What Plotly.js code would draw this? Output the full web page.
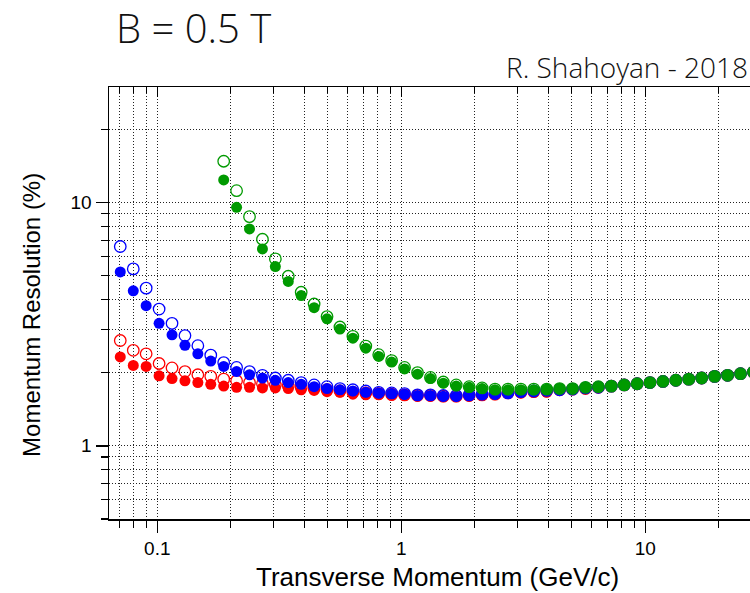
<!DOCTYPE html>
<html>
<head>
<meta charset="utf-8">
<script src="https://cdn.plot.ly/plotly-3.0.1.min.js"></script>
<style>html,body{margin:0;padding:0;overflow:hidden;background:#fff}</style>
</head>
<body>
<div id="chart" style="width:750px;height:593px"></div>
<script>
// Transverse momentum grid (GeV/c)
const pt = [0.0705,0.0797,0.0900,0.1017,0.1149,0.1298,0.1466,0.1656,0.1871,0.2113,
            0.2387,0.2697,0.3046,0.3441,0.3887,0.4391,0.4961,0.5604,0.6331,0.7152,
            0.8079,0.9127,1.031,1.165,1.316,1.486,1.679,1.897,2.143,2.421,
            2.735,3.090,3.490,3.943,4.454,5.032,5.684,6.421,7.254,8.194,
            9.256,10.45,11.81,13.34,15.07,17.02,19.23,21.73,24.55,27.73];

// Momentum resolution (%) - red series
const redOpen   = [2.71,2.47,2.39,2.18,2.09,2.02,1.96,1.93,1.88,1.85,
                   1.82,1.80,1.78,1.76,1.74,1.72,1.70,1.68,1.66,1.65,
                   1.64,1.63,1.62,1.61,1.61,1.60,1.60,1.61,1.62,1.63,
                   1.65,1.66,1.67,1.68,1.70,1.71,1.72,1.74,1.76,1.78,
                   1.80,1.82,1.84,1.86,1.88,1.90,1.93,1.95,1.98,2.01];
const redFilled = [2.32,2.14,2.12,1.94,1.89,1.85,1.82,1.79,1.76,1.74,
                   1.74,1.73,1.73,1.72,1.70,1.69,1.67,1.66,1.63,1.62,
                   1.62,1.61,1.61,1.60,1.60,1.59,1.59,1.60,1.61,1.62,
                   1.64,1.65,1.66,1.66,1.69,1.70,1.72,1.73,1.76,1.78,
                   1.80,1.82,1.84,1.86,1.88,1.90,1.93,1.95,1.98,2.01];
// blue series
const blueOpen   = [6.60,5.34,4.45,3.65,3.19,2.84,2.58,2.36,2.20,2.10,
                    2.02,1.95,1.90,1.86,1.82,1.78,1.75,1.72,1.70,1.68,
                    1.66,1.65,1.64,1.62,1.62,1.61,1.61,1.62,1.63,1.64,
                    1.65,1.67,1.68,1.69,1.70,1.71,1.73,1.74,1.76,1.78,
                    1.80,1.82,1.84,1.86,1.88,1.90,1.93,1.95,1.98,2.01];
const blueFilled = [5.19,4.34,3.77,3.19,2.86,2.59,2.39,2.23,2.12,2.02,
                    1.96,1.90,1.86,1.82,1.79,1.75,1.72,1.70,1.68,1.66,
                    1.65,1.64,1.63,1.61,1.61,1.60,1.60,1.61,1.62,1.63,
                    1.65,1.66,1.67,1.69,1.70,1.71,1.72,1.74,1.76,1.78,
                    1.80,1.82,1.84,1.86,1.88,1.90,1.93,1.95,1.98,2.01];
// green series
const greenOpen   = [null,null,null,null,null,null,null,null,14.8,11.2,
                     8.76,7.07,5.87,4.98,4.28,3.83,3.40,3.08,2.82,2.57,
                     2.37,2.24,2.10,2.00,1.91,1.83,1.78,1.75,1.73,1.71,
                     1.71,1.71,1.71,1.71,1.72,1.72,1.74,1.75,1.76,1.78,
                     1.80,1.82,1.84,1.86,1.88,1.90,1.93,1.95,1.98,2.01];
const greenFilled = [null,null,null,null,null,null,null,null,12.4,9.57,
                     7.80,6.45,5.46,4.74,4.15,3.70,3.33,3.02,2.77,2.52,
                     2.33,2.21,2.07,1.97,1.89,1.81,1.76,1.74,1.72,1.70,
                     1.70,1.70,1.70,1.71,1.72,1.72,1.74,1.75,1.76,1.78,
                     1.80,1.82,1.84,1.86,1.88,1.90,1.93,1.95,1.98,2.01];

// axis ticks
const xMajor = [0.1, 1, 10];
const xMajorText = ['0.1', '1', '10'];
const xMinor = [0.07,0.08,0.09,0.2,0.3,0.4,0.5,0.6,0.7,0.8,0.9,2,3,4,5,6,7,8,9,20];
const yMajor = [1, 10];
const yMajorText = ['1', '10'];
const yMinor = [0.5,0.6,0.7,0.8,0.9,2,3,4,5,6,7,8,9,20,30];

const RED = '#ff0000', BLUE = '#0000ff', GREEN = '#009a00';
function openTrace(y, c) {
  return {x: pt, y: y, type: 'scatter', mode: 'markers', hoverinfo: 'x+y',
          marker: {symbol: 'circle-open', size: 11.5, color: c, line: {color: c, width: 1.3}}};
}
function filledTrace(y, c) {
  return {x: pt, y: y, type: 'scatter', mode: 'markers', hoverinfo: 'x+y',
          marker: {symbol: 'circle', size: 11, color: c, line: {width: 0}}};
}
const data = [
  openTrace(redOpen, RED), filledTrace(redFilled, RED),
  openTrace(blueOpen, BLUE), filledTrace(blueFilled, BLUE),
  openTrace(greenOpen, GREEN), filledTrace(greenFilled, GREEN),
  {x: [], y: [], xaxis: 'x2', yaxis: 'y', type: 'scatter', mode: 'markers', showlegend: false}
];

const GRID = '#222';
const DASH = '1px,2px';
const tickFont = {family: 'Liberation Sans, Arial, sans-serif', size: 19, color: '#000'};
const xRange = [-1.198, 1.429];

const layout = {
  width: 750, height: 593,
  margin: {l: 109, r: 0, t: 87, b: 74},
  paper_bgcolor: '#fff', plot_bgcolor: '#fff',
  showlegend: false,
  title: {text: 'B = 0.5 T', x: 116/750, xref: 'container', xanchor: 'left',
          y: 1 - 29/593, yref: 'container', yanchor: 'middle',
          font: {family: 'Open Sans, sans-serif', size: 40, weight: 300, color: '#111'}},
  xaxis: {
    type: 'log', range: xRange, tickmode: 'array', tickvals: xMajor, ticktext: xMajorText,
    ticks: 'outside', ticklen: 12, tickwidth: 1.5, tickcolor: '#000',
    showgrid: true, gridcolor: GRID, gridwidth: 1, griddash: DASH,
    minor: {tickmode: 'array', tickvals: xMinor, ticks: 'outside', ticklen: 7, tickwidth: 1.2,
            tickcolor: '#000', showgrid: true, gridcolor: GRID, gridwidth: 1, griddash: DASH},
    showline: true, linecolor: '#000', linewidth: 1.5, mirror: true,
    zeroline: false, tickfont: tickFont
  },
  xaxis2: {
    type: 'log', range: xRange, overlaying: 'x', side: 'top', tickmode: 'array',
    tickvals: xMajor, showticklabels: false, ticks: 'inside', ticklen: 10, tickwidth: 1.2,
    tickcolor: '#000', showgrid: false, zeroline: false, showline: false,
    minor: {tickmode: 'array', tickvals: xMinor, ticks: 'inside', ticklen: 6, tickwidth: 1, tickcolor: '#000', showgrid: false}
  },
  yaxis: {
    type: 'log', range: [Math.log10(0.5), 1.4756], tickmode: 'array', tickvals: yMajor, ticktext: yMajorText,
    ticks: 'outside', ticklen: 12, tickwidth: 1.5, tickcolor: '#000',
    showgrid: true, gridcolor: GRID, gridwidth: 1, griddash: DASH,
    minor: {tickmode: 'array', tickvals: yMinor, ticks: 'outside', ticklen: 7, tickwidth: 1.2,
            tickcolor: '#000', showgrid: true, gridcolor: GRID, gridwidth: 1, griddash: DASH},
    showline: true, linecolor: '#000', linewidth: 1.5,
    zeroline: false, tickfont: tickFont
  },
  annotations: [
    {text: 'Transverse Momentum (GeV/c)', xref: 'paper', yref: 'paper', x: 0.512, y: -0.134,
     xanchor: 'center', yanchor: 'middle', showarrow: false,
     font: {family: 'Liberation Sans, Arial, sans-serif', size: 26, color: '#000'}},
    {text: 'Momentum Resolution (%)', xref: 'paper', yref: 'paper', x: -0.122, y: 0.472,
     xanchor: 'center', yanchor: 'middle', showarrow: false, textangle: -90,
     font: {family: 'Liberation Sans, Arial, sans-serif', size: 24, color: '#000'}},
    {text: 'R. Shahoyan - 2018', xref: 'paper', yref: 'paper', x: 1, y: 1.046,
     xanchor: 'right', yanchor: 'middle', showarrow: false,
     font: {family: 'Open Sans, sans-serif', size: 28, weight: 300, color: '#111'}}
  ]
};

Plotly.newPlot('chart', data, layout, {displayModeBar: false, staticPlot: true});
</script>
</body>
</html>
